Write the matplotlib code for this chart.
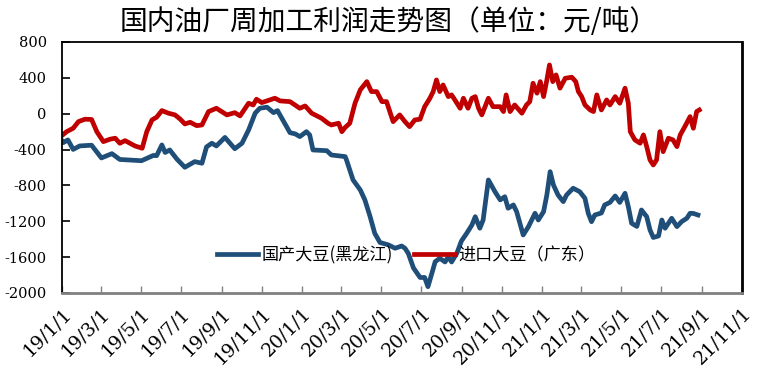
import matplotlib
matplotlib.use("Agg")
import matplotlib.pyplot as plt
import matplotlib.transforms as mtransforms
import pandas as pd

plt.rcParams['font.family'] = ['Noto Sans CJK SC', 'DejaVu Sans']
plt.rcParams['axes.unicode_minus'] = False

# --- Datos ---
fechas_hlj = [
    '2019-01-02', '2019-01-03', '2019-01-10', '2019-01-18', '2019-01-28', '2019-02-15',
    '2019-03-02', '2019-03-18', '2019-03-30', '2019-05-02', '2019-05-20', '2019-05-25',
    '2019-06-02', '2019-06-07', '2019-06-14', '2019-06-25', '2019-07-07', '2019-07-22',
    '2019-08-02', '2019-08-09', '2019-08-17', '2019-08-24', '2019-09-06', '2019-09-21',
    '2019-10-02', '2019-10-12', '2019-10-22', '2019-10-29', '2019-11-09', '2019-11-19',
    '2019-11-25', '2019-12-14', '2019-12-22', '2019-12-29', '2020-01-08', '2020-01-13',
    '2020-01-18', '2020-02-08', '2020-02-15', '2020-03-07', '2020-03-09', '2020-03-19',
    '2020-03-30', '2020-04-06', '2020-04-14', '2020-04-21', '2020-04-29', '2020-05-12',
    '2020-05-22', '2020-06-01', '2020-06-06', '2020-06-11', '2020-06-19', '2020-06-29',
    '2020-07-06', '2020-07-11', '2020-07-17', '2020-07-22', '2020-07-29', '2020-08-06',
    '2020-08-11', '2020-08-16', '2020-08-24', '2020-08-31', '2020-09-08', '2020-09-16',
    '2020-09-21', '2020-09-28', '2020-10-03', '2020-10-11', '2020-10-21', '2020-10-29',
    '2020-11-05', '2020-11-10', '2020-11-18', '2020-11-23', '2020-12-03', '2020-12-11',
    '2020-12-21', '2020-12-26', '2021-01-03', '2021-01-08', '2021-01-13', '2021-01-18',
    '2021-01-25', '2021-02-02', '2021-02-07', '2021-02-17', '2021-02-27', '2021-03-07',
    '2021-03-12', '2021-03-17', '2021-03-22', '2021-04-01', '2021-04-06', '2021-04-14',
    '2021-04-22', '2021-04-29', '2021-05-07', '2021-05-12', '2021-05-17', '2021-05-25',
    '2021-06-01', '2021-06-09', '2021-06-14', '2021-06-19', '2021-06-27', '2021-07-02',
    '2021-07-07', '2021-07-17', '2021-07-25', '2021-08-01', '2021-08-09', '2021-08-14',
    '2021-08-19', '2021-08-26',
]
valores_hlj = [
    -312, -323, -293, -399, -360, -352,
    -494, -446, -511, -525, -466, -469,
    -349, -433, -405, -508, -598, -535,
    -553, -371, -330, -360, -265, -391,
    -330, -182, 5, 60, 72, 11,
    34, -212, -226, -256, -201, -237,
    -405, -413, -461, -479, -516, -739,
    -851, -962, -1149, -1334, -1437, -1464,
    -1501, -1476, -1501, -1557, -1721, -1827,
    -1827, -1930, -1780, -1651, -1613, -1654,
    -1595, -1654, -1557, -1420, -1334, -1241,
    -1149, -1278, -1186, -739, -870, -962,
    -926, -1055, -1018, -1093, -1353, -1260,
    -1111, -1186, -1093, -907, -647, -795,
    -907, -981, -907, -832, -870, -944,
    -1111, -1205, -1130, -1108, -1018, -990,
    -918, -990, -888, -1037, -1222, -1258,
    -1074, -1149, -1297, -1381, -1364, -1186,
    -1278, -1167, -1260, -1205, -1167, -1111,
    -1113, -1130,
]

fechas_gd = [
    '2019-01-02', '2019-01-08', '2019-01-18', '2019-01-26', '2019-02-05', '2019-02-15',
    '2019-02-23', '2019-03-05', '2019-03-15', '2019-03-23', '2019-03-30', '2019-04-07',
    '2019-04-22', '2019-05-03', '2019-05-10', '2019-05-18', '2019-05-25', '2019-06-02',
    '2019-06-12', '2019-06-22', '2019-06-30', '2019-07-07', '2019-07-15', '2019-07-25',
    '2019-08-02', '2019-08-12', '2019-08-24', '2019-09-09', '2019-09-21', '2019-09-29',
    '2019-10-12', '2019-10-19', '2019-10-24', '2019-11-01', '2019-11-21', '2019-11-29',
    '2019-12-14', '2019-12-29', '2020-01-06', '2020-01-16', '2020-01-31', '2020-02-10',
    '2020-02-15', '2020-02-26', '2020-03-02', '2020-03-07', '2020-03-14', '2020-03-22',
    '2020-03-30', '2020-04-09', '2020-04-16', '2020-04-24', '2020-05-02', '2020-05-09',
    '2020-05-19', '2020-05-29', '2020-06-06', '2020-06-13', '2020-06-21', '2020-06-29',
    '2020-07-06', '2020-07-14', '2020-07-19', '2020-07-24', '2020-07-29', '2020-08-03',
    '2020-08-11', '2020-08-16', '2020-08-21', '2020-08-29', '2020-09-03', '2020-09-10',
    '2020-09-16', '2020-09-21', '2020-09-26', '2020-10-01', '2020-10-11', '2020-10-18',
    '2020-10-29', '2020-11-03', '2020-11-07', '2020-11-13', '2020-11-20', '2020-12-01',
    '2020-12-08', '2020-12-13', '2020-12-18', '2020-12-24', '2020-12-29', '2021-01-03',
    '2021-01-08', '2021-01-12', '2021-01-17', '2021-01-22', '2021-01-28', '2021-02-05',
    '2021-02-15', '2021-02-21', '2021-02-25', '2021-03-02', '2021-03-07', '2021-03-15',
    '2021-03-20', '2021-03-25', '2021-04-01', '2021-04-09', '2021-04-14', '2021-04-22',
    '2021-04-29', '2021-05-07', '2021-05-12', '2021-05-15', '2021-05-22', '2021-05-30',
    '2021-06-04', '2021-06-09', '2021-06-14', '2021-06-19', '2021-06-24', '2021-06-29',
    '2021-07-04', '2021-07-12', '2021-07-19', '2021-07-25', '2021-07-30', '2021-08-06',
    '2021-08-14', '2021-08-19', '2021-08-24', '2021-08-28',
]
valores_gd = [
    -237, -201, -163, -89, -62, -65,
    -201, -312, -285, -274, -330, -301,
    -360, -386, -201, -70, -40, 34,
    5, -14, -62, -115, -96, -134,
    -126, 23, 60, -14, 11, -25,
    116, 97, 161, 123, 172, 142,
    134, 60, 86, 5, -51, -107,
    -126, -107, -201, -154, -107, 116,
    265, 357, 246, 246, 134, 134,
    -89, -14, -89, -145, -70, -62,
    78, 172, 246, 376, 246, 320,
    190, 209, 153, 60, 172, 60,
    172, 190, 60, -14, 172, 78,
    78, 23, 209, 23, 97, 5,
    97, 134, 339, 228, 357, 190,
    376, 543, 357, 432, 284, 395,
    406, 357, 246, 190, 97, 41,
    23, 209, 41, 153, 97, 190,
    116, 284, 116, -201, -293, -330,
    -237, -368, -516, -572, -516, -201,
    -424, -274, -293, -368, -237, -145,
    -33, -163, 23, 41,
]

etiquetas_x = ['19/1/1', '19/3/1', '19/5/1', '19/7/1', '19/9/1', '19/11/1',
               '20/1/1', '20/3/1', '20/5/1', '20/7/1', '20/9/1', '20/11/1',
               '21/1/1', '21/3/1', '21/5/1', '21/7/1', '21/9/1', '21/11/1']
ticks_x = pd.date_range('2019-01-01', '2021-11-01', freq='2MS')
ticks_y = [-2000, -1600, -1200, -800, -400, 0, 400, 800]

titulo = '国内油厂周加工利润走势图（单位：元/吨）'
nombre_hlj = '国产大豆(黑龙江)'
nombre_gd = '进口大豆（广东）'

# --- Figura ---
fig = plt.figure(figsize=(7.78, 3.81), dpi=100)
ax = fig.add_axes([0.0797, 0.231, 0.874, 0.659])

ax.plot(pd.to_datetime(fechas_hlj), valores_hlj, color='#1F4E79', linewidth=3.4,
        label=nombre_hlj, solid_joinstyle='round')
ax.plot(pd.to_datetime(fechas_gd), valores_gd, color='#C00000', linewidth=3.4,
        label=nombre_gd, solid_joinstyle='round')

ax.set_xlim(pd.Timestamp('2019-01-01'), pd.Timestamp('2021-11-01'))
ax.set_ylim(-2000, 800)
ax.set_yticks(ticks_y)
ax.set_yticklabels([str(v) for v in ticks_y], family='DejaVu Serif', fontsize=10.5)
ax.set_xticks(ticks_x)
ax.set_xticklabels(etiquetas_x, rotation=45, ha='right', rotation_mode='anchor',
                   family='DejaVu Serif', fontsize=13.5)

# desplazar un poco las etiquetas del eje x hacia la derecha
desplazamiento = mtransforms.ScaledTranslation(6 / 100, 0, fig.dpi_scale_trans)
for etiqueta in ax.get_xticklabels():
    etiqueta.set_transform(etiqueta.get_transform() + desplazamiento)

ax.tick_params(axis='y', direction='in', length=6, width=1.2, pad=11)
ax.tick_params(axis='x', direction='in', length=5, width=1, color='#808080', pad=8)

for lado in ['left', 'top', 'right']:
    ax.spines[lado].set_color('black')
    ax.spines[lado].set_linewidth(1.3)
ax.spines['right'].set_linewidth(2)
ax.spines['bottom'].set_color('#808080')
ax.spines['bottom'].set_linewidth(2)

fig.text(0.5, 0.942, titulo, ha='center', va='center', fontsize=20)

ax.legend(loc='center', bbox_to_anchor=(0.506, 0.15), ncol=2, frameon=False,
          fontsize=12.3, handlelength=2.4, handletextpad=0.2, columnspacing=1.2)

fig.savefig('out.png', dpi=100)
